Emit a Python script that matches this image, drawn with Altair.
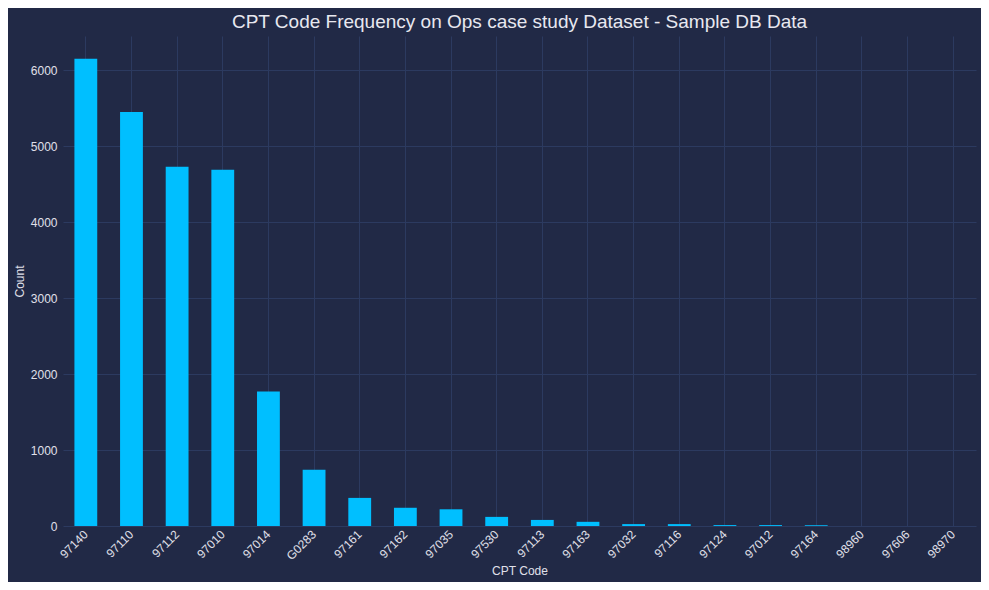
import altair as alt
import pandas as pd

codes = ['97140', '97110', '97112', '97010', '97014', 'G0283', '97161', '97162', '97035', '97530',
         '97113', '97163', '97032', '97116', '97124', '97012', '97164', '98960', '97606', '98970']
counts = [6150, 5450, 4730, 4690, 1770, 740, 370, 240, 220, 120,
          80, 55, 25, 25, 12, 12, 10, 0, 0, 0]

df = pd.DataFrame({'CPT Code': codes, 'Count': counts})

chart = alt.Chart(df).mark_bar(color='#00bfff').encode(
    x=alt.X('CPT Code:N', sort=None, title='CPT Code',
            scale=alt.Scale(paddingInner=0.5, paddingOuter=0.25),
            axis=alt.Axis(labelAngle=-45, labelAlign='right', labelBaseline='middle',
                          labelFontSize=12, grid=True)),
    y=alt.Y('Count:Q', title='Count', scale=alt.Scale(domain=[0, 6450], nice=False),
            axis=alt.Axis(values=[0, 1000, 2000, 3000, 4000, 5000, 6000], format='d', labelFontSize=12)),
    tooltip=['CPT Code', 'Count']
).properties(
    width=973,
    height=574,
    autosize=alt.AutoSizeParams(type='fit', contains='padding'),
    background='#212946',
    title=alt.Title('CPT Code Frequency on Ops case study Dataset - Sample DB Data',
                    fontSize=19, fontWeight='normal', color='#e8e8f0', font='Arial')
).configure(
    font='Arial'
).configure_view(
    fill='#212946', stroke=None
).configure_axis(
    gridColor='#2c3a60', domain=False, ticks=False, labelColor='#e0e0ea', labelFont='Arial',
    titleColor='#e0e0ea', titleFont='Arial', titleFontWeight='normal', titleFontSize=12, labelPadding=6
)

chart.save("out.html", embed_options={"renderer": "svg", "actions": False})
